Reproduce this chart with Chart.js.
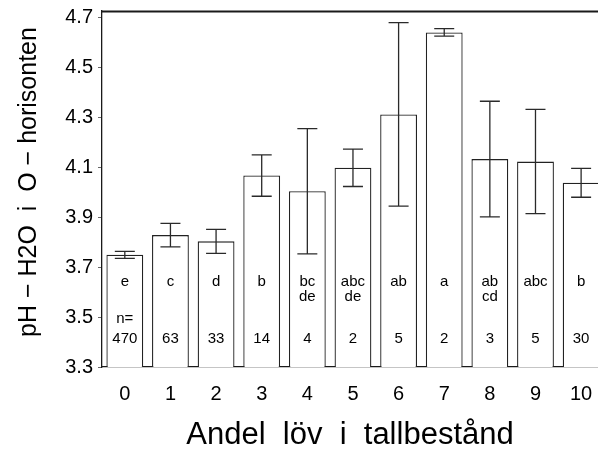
<!DOCTYPE html>
<html>
<head>
<meta charset="utf-8">
<script src="https://cdn.jsdelivr.net/npm/chart.js@4/dist/chart.umd.min.js"></script>
<style>
  html, body { margin: 0; padding: 0; background: #fff; overflow: hidden; }
  #wrap { width: 598px; height: 451px; position: relative; }
</style>
</head>
<body>
<div id="wrap"><canvas id="c"></canvas></div>
<script>
// ---- data ----
const categories = [0, 1, 2, 3, 4, 5, 6, 7, 8, 9, 10];
const meanPH = [3.750, 3.829, 3.804, 4.068, 4.005, 4.099, 4.313, 4.642, 4.134, 4.124, 4.039];
const errPH  = [0.014, 0.047, 0.048, 0.083, 0.251, 0.075, 0.368, 0.015, 0.232, 0.209, 0.058];
const sigLetters = [['e'], ['c'], ['d'], ['b'], ['bc', 'de'], ['abc', 'de'], ['ab'], ['a'], ['ab', 'cd'], ['abc'], ['b']];
const nCounts = [470, 63, 33, 14, 4, 2, 5, 2, 3, 5, 30];
const yTicks = [3.3, 3.5, 3.7, 3.9, 4.1, 4.3, 4.5, 4.7];
const xTicks = categories;
const xTitle = 'Andel  löv  i  tallbestånd';
const yTitle = '  pH − H2O  i  O − horisonten';

const FONT = '"Liberation Sans", Arial, Helvetica, sans-serif';

const annotPlugin = {
  id: 'annot',
  afterDatasetsDraw(chart) {
    const { ctx, scales: { x, y }, chartArea: a } = chart;
    ctx.save();
    // top frame line
    ctx.strokeStyle = '#1a1a1a';
    ctx.lineWidth = 1.8;
    ctx.beginPath();
    ctx.moveTo(a.left, a.top + 0.5);
    ctx.lineTo(a.right, a.top + 0.5);
    ctx.stroke();
    // error bars
    ctx.strokeStyle = '#2a2a2a';
    ctx.lineWidth = 1.3;
    categories.forEach((c, i) => {
      const px = x.getPixelForValue(c);
      const yl = y.getPixelForValue(meanPH[i] - errPH[i]);
      const yh = y.getPixelForValue(meanPH[i] + errPH[i]);
      ctx.beginPath();
      ctx.moveTo(px, yl); ctx.lineTo(px, yh);
      ctx.moveTo(px - 10, yl); ctx.lineTo(px + 10, yl);
      ctx.moveTo(px - 10, yh); ctx.lineTo(px + 10, yh);
      ctx.stroke();
    });
    // letters and counts
    ctx.fillStyle = '#000';
    ctx.textAlign = 'center';
    ctx.textBaseline = 'alphabetic';
    ctx.font = '15px ' + FONT;
    categories.forEach((c, i) => {
      const px = x.getPixelForValue(c);
      sigLetters[i].forEach((t, k) => {
        ctx.fillText(t, px, a.bottom - 81.3 + k * 15.7);
      });
      ctx.fillText(String(nCounts[i]), px, a.bottom - 24);
      if (i === 0) ctx.fillText('n=', px, a.bottom - 44);
    });
    ctx.restore();
  }
};

new Chart(document.getElementById('c'), {
  type: 'bar',
  data: {
    datasets: [{
      data: categories.map((c, i) => ({ x: c, y: meanPH[i] })),
      backgroundColor: '#ffffff',
      borderColor: '#222222',
      borderWidth: 1.3,
      categoryPercentage: 1,
      barPercentage: 0.807
    }]
  },
  options: {
    responsive: true,
    maintainAspectRatio: false,
    animation: false,
    layout: { padding: { top: 11, right: 0, left: 0, bottom: 0 } },
    plugins: { legend: { display: false }, tooltip: { enabled: false } },
    scales: {
      x: {
        type: 'linear',
        offset: false,
        min: -0.5,
        max: 10.37,
        grid: { display: false },
        border: { display: true, color: '#1a1a1a', width: 1.3 },
        afterBuildTicks: s => { s.ticks = xTicks.map(v => ({ value: v })); },
        afterFit: s => { s.height = 84; s.paddingLeft = 0; s.paddingRight = 0; },
        ticks: {
          padding: 7,
          color: '#000',
          font: { family: FONT, size: 20 },
          maxRotation: 0,
          autoSkip: false,
          callback: v => String(v)
        },
        title: {
          display: true,
          text: xTitle,
          color: '#000',
          font: { family: FONT, size: 31, lineHeight: 1 },
          padding: { top: 0, bottom: 0 }
        }
      },
      y: {
        type: 'linear',
        min: 3.3,
        max: 4.728,
        grid: { drawOnChartArea: false, tickLength: 4, color: '#666', lineWidth: 1 },
        border: { display: true, color: '#1a1a1a', width: 1.3 },
        afterBuildTicks: s => { s.ticks = yTicks.map(v => ({ value: v })); },
        afterFit: s => { s.width = 102; s.paddingTop = 0; s.paddingBottom = 0; },
        ticks: {
          padding: 5,
          color: '#000',
          font: { family: FONT, size: 20 },
          callback: v => Number(v).toFixed(1)
        },
        title: {
          display: true,
          text: yTitle,
          color: '#000',
          font: { family: FONT, size: 25, lineHeight: 1 },
          padding: { top: 17, bottom: 0 }
        }
      }
    }
  },
  plugins: [annotPlugin]
});
</script>
</body>
</html>
